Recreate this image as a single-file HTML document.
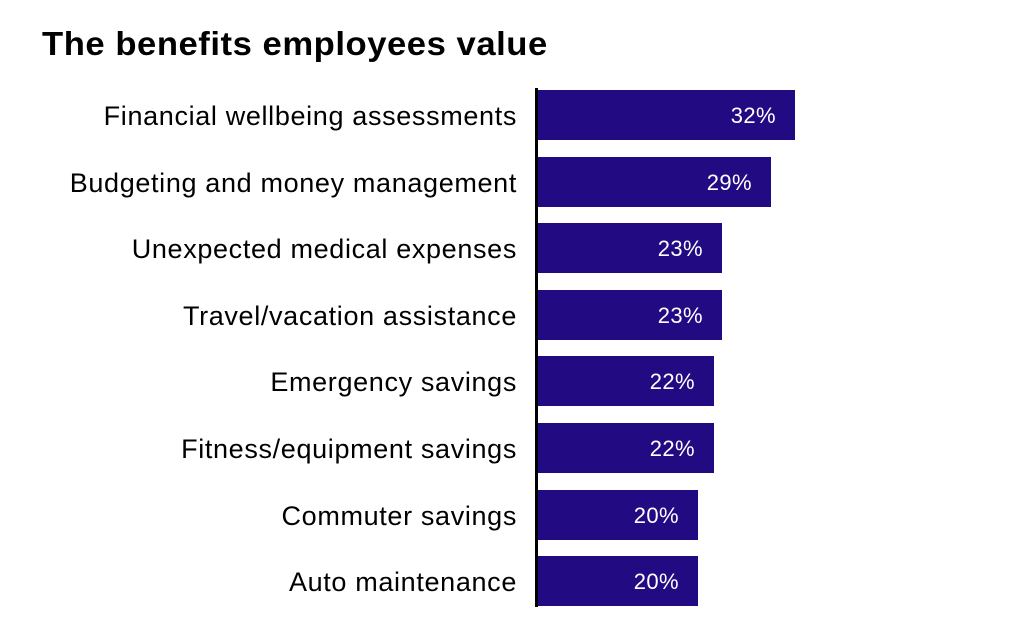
<!DOCTYPE html>
<html><head><meta charset="utf-8"><style>
body{margin:0;width:1024px;height:635px;background:#fff;position:relative;overflow:hidden;font-family:"Liberation Sans",sans-serif}
.t{position:absolute;left:42px;top:25px;font-size:33px;font-weight:bold;color:#000;letter-spacing:0.5px;transform:scaleX(1.05);transform-origin:left}
.ax{position:absolute;left:535px;top:88px;width:3px;height:519px;background:#000}
.b{position:absolute;left:538px;height:50px;background:#220a82}
.b span{position:absolute;right:19px;top:1px;line-height:50px;color:#fff;font-size:22px;letter-spacing:0.4px}
.l{position:absolute;right:507px;height:50px;line-height:52px;font-size:27px;color:#000;white-space:nowrap;letter-spacing:0.65px}
</style></head><body>
<div class="t">The benefits employees value</div>
<div class="ax"></div>
<div class="l" style="top:90px">Financial wellbeing assessments</div>
<div class="b" style="top:90px;width:257px"><span>32%</span></div>
<div class="l" style="top:157px">Budgeting and money management</div>
<div class="b" style="top:157px;width:233px"><span>29%</span></div>
<div class="l" style="top:223px">Unexpected medical expenses</div>
<div class="b" style="top:223px;width:184px"><span>23%</span></div>
<div class="l" style="top:290px">Travel/vacation assistance</div>
<div class="b" style="top:290px;width:184px"><span>23%</span></div>
<div class="l" style="top:356px">Emergency savings</div>
<div class="b" style="top:356px;width:176px"><span>22%</span></div>
<div class="l" style="top:423px">Fitness/equipment savings</div>
<div class="b" style="top:423px;width:176px"><span>22%</span></div>
<div class="l" style="top:490px">Commuter savings</div>
<div class="b" style="top:490px;width:160px"><span>20%</span></div>
<div class="l" style="top:556px">Auto maintenance</div>
<div class="b" style="top:556px;width:160px"><span>20%</span></div>
</body></html>
